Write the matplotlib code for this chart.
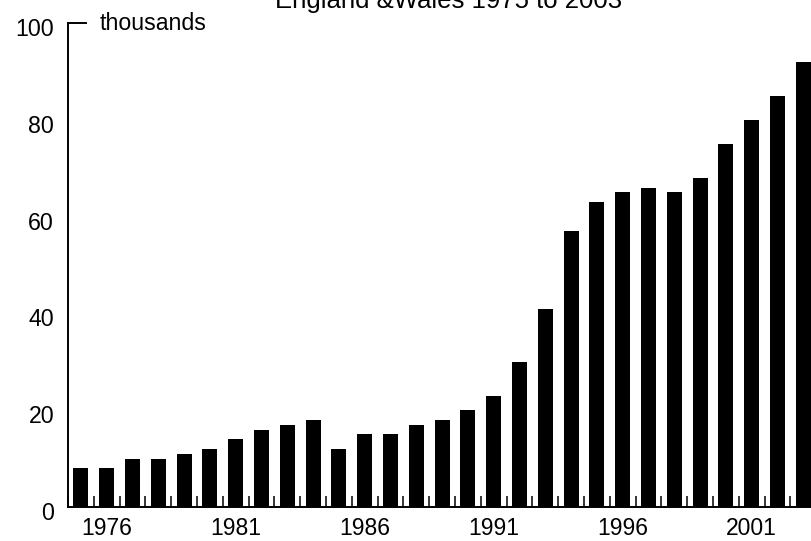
import matplotlib.pyplot as plt
from matplotlib.ticker import FixedLocator
from matplotlib.transforms import ScaledTranslation

plt.rcParams['font.family'] = ['Liberation Sans', 'DejaVu Sans']

# number (thousands) per year
years = list(range(1975, 2004))
values = [8, 8, 10, 10, 11, 12, 14, 16, 17, 18, 12, 15, 15, 17, 18,
          20, 23, 30, 41, 57, 63, 65, 66, 65, 68, 75, 80, 85, 92]
label_years = [1976, 1981, 1986, 1991, 1996, 2001]
y_ticks = [0, 20, 40, 60, 80, 100]
title = 'England &Wales 1975 to 2003'

fig = plt.figure(figsize=(8.11, 5.41), dpi=100)
# axis runs off the right edge of the picture
ax = fig.add_axes([68 / 811, 34 / 541, 743 / 811, 484 / 541])

ax.bar(years, values, width=0.58, color='black')

ax.set_xlim(1974.5, 2003.3)
ax.set_ylim(0, 100)

for side in ['top', 'right']:
    ax.spines[side].set_visible(False)
for side in ['left', 'bottom']:
    ax.spines[side].set_linewidth(1.4)

# year labels under bars, small inward ticks between bars
ax.set_xticks(label_years)
ax.set_xticklabels([str(y) for y in label_years])
ax.xaxis.set_minor_locator(FixedLocator([y - 0.5 for y in years]))
ax.tick_params(axis='x', which='major', length=0, pad=7.5, labelsize=16.5)
ax.tick_params(axis='x', which='minor', direction='in', length=8, width=1.1)

ax.set_yticks(y_ticks)
ax.tick_params(axis='y', which='major', length=0, pad=10, labelsize=16.7)
for lab in ax.get_yticklabels():
    lab.set_transform(lab.get_transform() + ScaledTranslation(0, -4 / 100, fig.dpi_scale_trans))

# short stub at the top of the y axis
ax.axhline(100, xmin=0, xmax=18 / 743, color='black', lw=1.4, clip_on=False)

ax.text(100 / 811, 1 - 30 / 541, 'thousands', transform=fig.transFigure,
        fontsize=16.7, va='baseline', ha='left')
fig.text(449 / 811, 1 - 8 / 541, title, fontsize=18.5, va='baseline', ha='center')

fig.savefig('out.png', dpi=100)
